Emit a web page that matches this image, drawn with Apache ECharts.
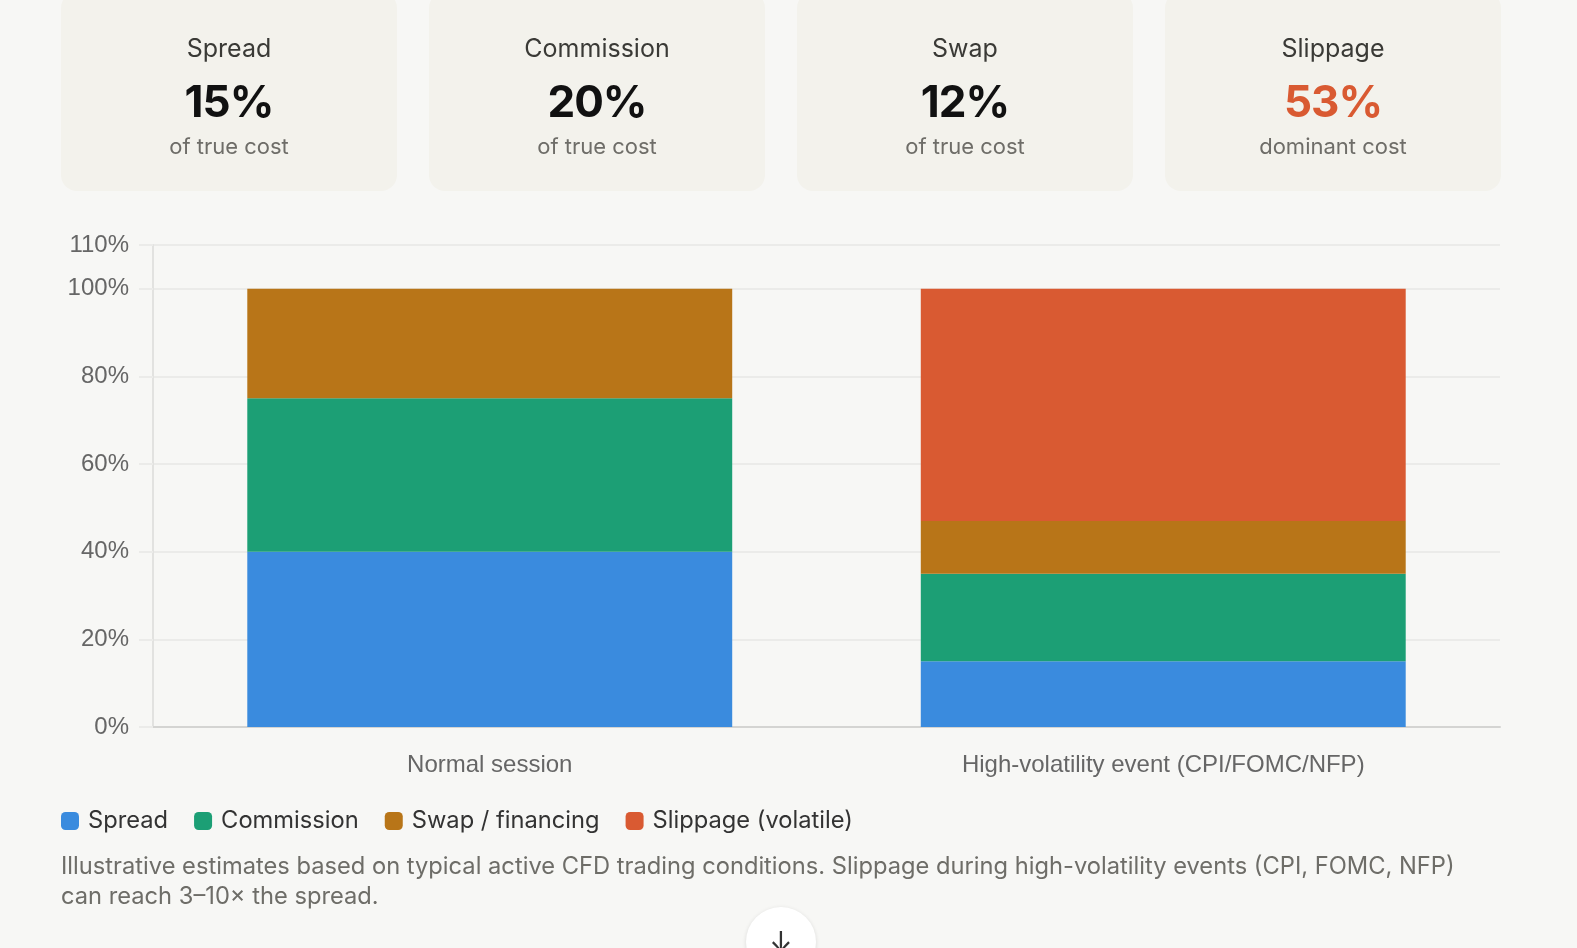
<!DOCTYPE html>
<html>

<head>
  <meta charset="utf-8">
  <title>True cost breakdown</title>
  <script src="https://cdn.jsdelivr.net/npm/echarts@6/dist/echarts.min.js"></script>
  <style>
    html, body { margin: 0; padding: 0; background: #f7f7f5; }
    body { width: 1577px; height: 948px; position: relative; overflow: hidden; font-family: Inter, "Noto Sans", sans-serif; }
    #main { position: absolute; left: 0; top: 0; width: 1577px; height: 948px; }
    .card { position: absolute; top: -8px; width: 336px; height: 199px; background: #f3f2ec; border-radius: 16px; text-align: center; }
    .card .lbl { position: absolute; left: 0; right: 0; top: 41px; font-size: 25px; line-height: 30px; color: #3a3a36; }
    .card .val { position: absolute; left: 0; right: 0; top: 81px; font-size: 44px; line-height: 56px; font-weight: 700; color: #111; letter-spacing: -1px; }
    .card .val.hot { color: #d95a32; }
    .card .note { position: absolute; left: 0; right: 0; top: 140px; font-size: 22px; line-height: 28px; color: #6e6d68; }
    #foot { position: absolute; left: 61px; top: 851px; width: 1430px; font-size: 23.7px; line-height: 30px; color: #6e6d68; }
    #down { position: absolute; left: 746px; top: 907px; width: 70px; height: 70px; border-radius: 50%; background: #fff; box-shadow: 0 1px 4px rgba(0,0,0,0.12); text-align: center; font-size: 28px; line-height: 70px; color: #333; }
  </style>
</head>

<body>
  <div id="main"></div>
  <div id="cards"></div>
  <div id="foot">Illustrative estimates based on typical active CFD trading conditions. Slippage during high-volatility events (CPI, FOMC, NFP) can reach 3–10× the spread.</div>
  <div id="down">↓</div>
  <script type="text/javascript">
    // 数据
    var categories = ['Normal session', 'High-volatility event (CPI/FOMC/NFP)'];
    var spread = [40, 15];
    var commission = [35, 20];
    var swap = [25, 12];
    var slippage = [0, 53];
    var yTicks = [0, 20, 40, 60, 80, 100, 110];

    var cardLabels = ['Spread', 'Commission', 'Swap', 'Slippage'];
    var cardValues = ['15%', '20%', '12%', '53%'];
    var cardNotes = ['of true cost', 'of true cost', 'of true cost', 'dominant cost'];
    var cardLeft = [61, 429, 797, 1165];

    var html = '';
    for (var i = 0; i < cardLabels.length; i++) {
      html += '<div class="card" style="left:' + cardLeft[i] + 'px">' +
        '<div class="lbl">' + cardLabels[i] + '</div>' +
        '<div class="val' + (i == 3 ? ' hot' : '') + '">' + cardValues[i] + '</div>' +
        '<div class="note">' + cardNotes[i] + '</div></div>';
    }
    document.getElementById('cards').innerHTML = html;

    var myChart = echarts.init(document.getElementById('main'));

    var option = {
      animation: false,
      color: ['#3a8bde', '#1c9f75', '#b87518', '#d95a32'],
      grid: { left: 153, right: 77, top: 245, bottom: 221 },
      legend: {
        left: 61,
        top: 809,
        padding: 0,
        itemWidth: 18,
        itemHeight: 18,
        itemGap: 26,
        icon: 'roundRect',
        textStyle: { fontFamily: 'Inter', fontSize: 23.7, color: '#333', padding: [0, 0, 0, 4] },
        data: ['Spread', 'Commission', 'Swap / financing', 'Slippage (volatile)']
      },
      xAxis: {
        type: 'category',
        data: categories,
        axisLine: { lineStyle: { color: '#d4d4d2', width: 2 } },
        axisTick: { show: false },
        axisLabel: { margin: 26, fontFamily: 'Liberation Sans', fontSize: 24, color: '#666' }
      },
      yAxis: {
        type: 'value',
        min: 0,
        max: 110,
        interval: 20,
        axisLine: { show: true, lineStyle: { color: '#e2e2e0', width: 2 } },
        axisTick: { show: true, length: 14, lineStyle: { color: '#ebebe9', width: 2 } },
        splitLine: { lineStyle: { color: '#ebebe9', width: 2 } },
        axisLabel: {
          margin: 24,
          fontFamily: 'Liberation Sans',
          fontSize: 24,
          color: '#666',
          customValues: yTicks,
          formatter: function(v) { return v + '%'; }
        }
      },
      series: [{
        name: 'Spread', type: 'bar', stack: 'cost', barWidth: '72%', data: spread
      }, {
        name: 'Commission', type: 'bar', stack: 'cost', data: commission
      }, {
        name: 'Swap / financing', type: 'bar', stack: 'cost', data: swap
      }, {
        name: 'Slippage (volatile)', type: 'bar', stack: 'cost', data: slippage
      }]
    };

    myChart.setOption(option);
  </script>
</body>

</html>
